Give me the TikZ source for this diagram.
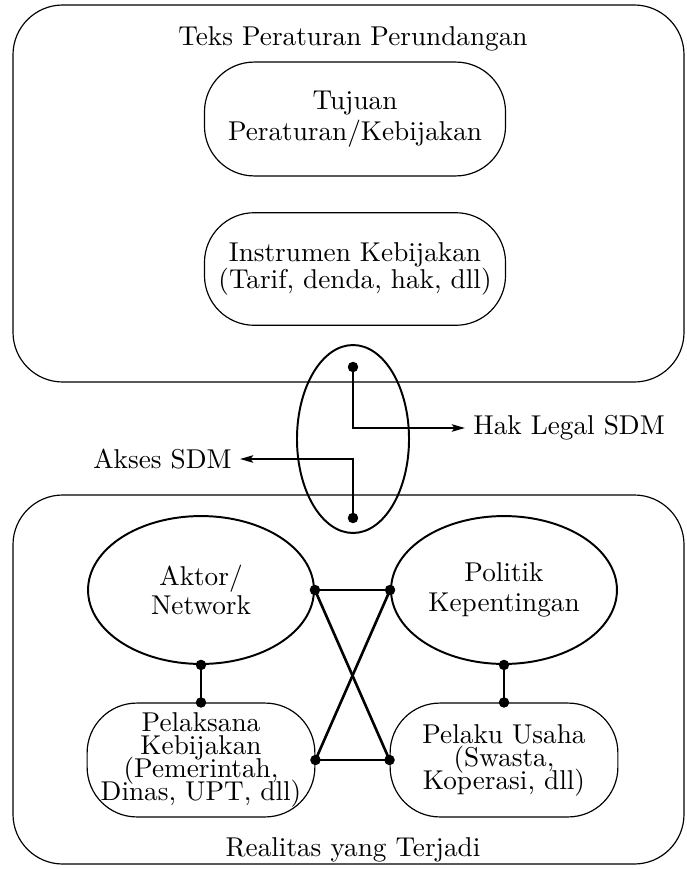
\documentclass[tikz,border=0pt]{standalone}
\usetikzlibrary{shapes.geometric,arrows.meta}
\begin{document}
\begin{tikzpicture}[x=0.382pt,y=-0.382pt,
  every node/.style={font=\fontsize{10.4pt}{12.5pt}\selectfont},
  container/.style={draw, line width=0.45pt, rounded corners=19pt},
  softbox/.style={draw, line width=0.45pt, rounded corners=19pt, align=center, inner sep=0pt},
  oval/.style={draw, ellipse, line width=0.75pt, align=center, inner sep=0pt},
  conn/.style={line width=1pt},
  midconn/.style={line width=0.85pt},
  arr/.style={-{Stealth[length=5pt,width=2.8pt,inset=1pt]}}]
\path[fill=white, use as bounding box] (0,0) rectangle (686,869);
% containers
\draw[container] (13,5) rectangle (684,382);
\draw[container] (13,495) rectangle (684,864);
\node[anchor=base] (title) at (353,46) {Teks Peraturan Perundangan};
\node[anchor=base] (real) at (353,856) {Realitas yang Terjadi};
% top boxes
\node[softbox, minimum width=115pt, minimum height=43.5pt] (tujuan) at (355,119) {Tujuan\\[-0.7pt]Peraturan/Kebijakan};
\node[softbox, minimum width=115pt, minimum height=43pt] (instr) at (355,269) {Instrumen Kebijakan\\[-2.4pt](Tarif, denda, hak, dll)};
% middle ellipse
\node[oval, minimum width=42.8pt, minimum height=71.8pt] (mid) at (353,439) {};
\coordinate (d1) at (353,367);
\coordinate (d2) at (353,518);
\node[anchor=west, inner sep=3pt] (hak) at (465,428) {Hak Legal SDM};
\node[anchor=east, inner sep=3pt] (akses) at (240,459) {Akses SDM};
\draw[midconn, arr] (d1) |- (hak.west);
\draw[midconn, arr] (d2) |- (akses.east);
\fill (d1) circle (2pt);
\fill (d2) circle (2pt);
% bottom part
\node[oval, minimum width=86.3pt, minimum height=56.5pt] (aktor) at (201,590) {Aktor/\\[-1.4pt]Network};
\node[oval, minimum width=86.3pt, minimum height=56.5pt] (politik) at (504,590) {Politik\\[-1pt]Kepentingan};
\node[softbox, minimum width=87pt, minimum height=43.5pt] (pelaksana) at (201,760) {Pelaksana\\[-3.7pt]Kebijakan\\[-3.7pt](Pemerintah,\\[-3.7pt]Dinas, UPT, dll)};
\node[softbox, minimum width=87pt, minimum height=43.5pt] (pelaku) at (504,760) {Pelaku Usaha\\[-3.7pt](Swasta,\\[-3.7pt]Koperasi, dll)};
\draw[conn] (aktor.east) -- (politik.west);
\draw[conn] (aktor.east) -- (pelaku.west);
\draw[conn] (politik.west) -- (pelaksana.east);
\draw[conn] (pelaksana.east) -- (pelaku.west);
\draw[conn] (aktor.south) -- (pelaksana.north);
\draw[conn] (politik.south) -- (pelaku.north);
\foreach \p in {aktor.east, politik.west, pelaksana.east, pelaku.west, aktor.south, pelaksana.north, politik.south, pelaku.north}
  \fill (\p) circle (2pt);
\end{tikzpicture}
\end{document}
